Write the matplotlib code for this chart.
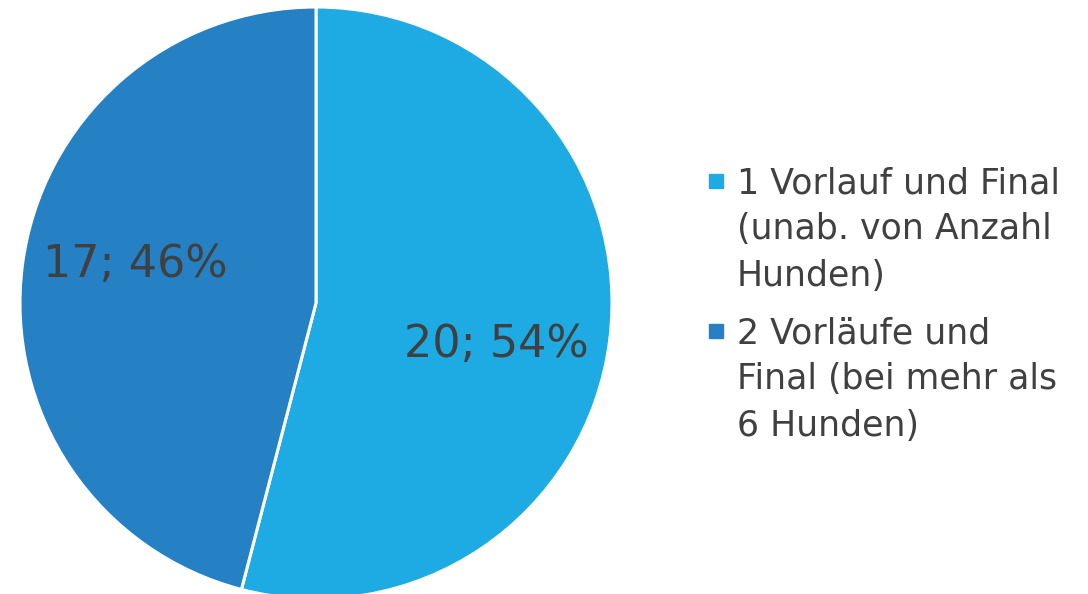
import matplotlib
matplotlib.use("Agg")
import matplotlib.pyplot as plt
from matplotlib.patches import Rectangle

# data
labels = [["1 Vorlauf und Final", "(unab. von Anzahl", "Hunden)"],
          ["2 Vorläufe und", "Final (bei mehr als", "6 Hunden)"]]
values = [20, 17]
colors = ["#1EABE3", "#2580C4"]
text_color = "#404040"

plt.rcParams["font.family"] = ["DejaVu Sans"]

W, H = 1088, 594
fig = plt.figure(figsize=(W / 100, H / 100), dpi=100)

# pie axes placed in pixel coordinates: center (316, 303), radius 296
cx, cy, r = 316, 303, 296
ax = fig.add_axes([(cx - r) / W, (H - cy - r) / H, 2 * r / W, 2 * r / H])
total = sum(values)
wedges, texts, autotexts = ax.pie(
    values, colors=colors, startangle=90, counterclock=False, radius=1,
    autopct=lambda p: f"{round(p * total / 100)}; {p:.0f}%", pctdistance=0.62,
    wedgeprops=dict(edgecolor="white", linewidth=2.2),
    textprops=dict(color=text_color, fontsize=32))
ax.set_xlim(-1, 1)
ax.set_ylim(-1, 1)
ax.set_aspect("equal")
ax.axis("off")

# nudge labels to where the reference shows them
autotexts[0].set_position((0.61, -0.14))
autotexts[1].set_position((-0.61, 0.13))

# legend drawn manually (pixel positions from the top)
block_baselines = [193, 343]
line_step = 46.3
for lines, col, y0 in zip(labels, colors, block_baselines):
    fig.patches.append(Rectangle((709 / W, (H - y0 + 5) / H), 14 / W, 14 / H,
                                 transform=fig.transFigure, color=col))
    for i, line in enumerate(lines):
        fig.text(737 / W, (H - y0 - i * line_step) / H, line, fontsize=25,
                 color=text_color, va="baseline", ha="left")

fig.savefig("out.png", dpi=100)
